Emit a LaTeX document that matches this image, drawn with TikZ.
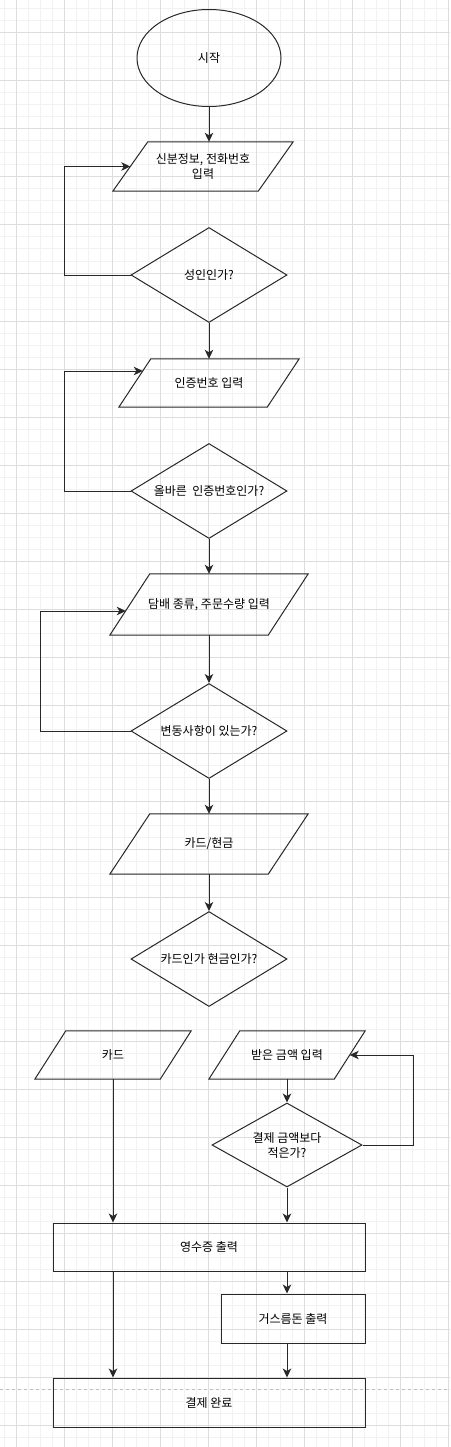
\documentclass[tikz,border=0pt]{standalone}
\usepackage{fontspec}
\setmainfont{Noto Sans CJK KR}
\usepackage{tikz}
\usetikzlibrary{arrows.meta, calc, shapes.geometric}
\definecolor{gridmajor}{RGB}{221,221,221}
\definecolor{gridminor}{RGB}{242,242,242}
\definecolor{breakgray}{RGB}{190,190,190}
\definecolor{strokegray}{RGB}{40,40,40}
\newcommand{\slantbox}[2]{%
  \draw[strokegray, line width=1pt] ($(#1.south west)+(-#2/2,0)$) -- ($(#1.north west)+(#2/2,0)$)
    -- ($(#1.north east)+(#2/2,0)$) -- ($(#1.south east)+(-#2/2,0)$) -- cycle;}

\begin{document}
\begin{tikzpicture}[x=1pt, y=-1pt, >={Stealth[length=9pt,width=8.5pt,inset=2.5pt]},
  every node/.style={font=\fontsize{12}{15}\selectfont, align=center, inner sep=0pt},
  terminal/.style={ellipse, draw=strokegray, line width=1pt, minimum width=144, minimum height=97},
  iobox/.style={rectangle, minimum height=48},
  decision/.style={diamond, draw=strokegray, line width=1pt, aspect=1.64, minimum width=156, minimum height=95},
  process/.style={rectangle, draw=strokegray, line width=1pt, minimum height=48},
  flow/.style={->, strokegray, line width=1pt}]

\useasboundingbox (0,0) rectangle (450,1447);
\fill[white] (0,0) rectangle (450,1447);
\foreach \gx in {4.5,16.5,...,450} \draw[gridminor, line width=1pt] (\gx,0) -- (\gx,1447);
\foreach \gy in {9,21,...,1447} \draw[gridminor, line width=1pt] (0,\gy) -- (450,\gy);
\foreach \gx in {16.5,64.5,...,450} \draw[gridmajor, line width=1pt] (\gx,0) -- (\gx,1447);
\foreach \gy in {33,81,...,1447} \draw[gridmajor, line width=1pt] (0,\gy) -- (450,\gy);
\draw[breakgray, line width=0.8pt, dash pattern=on 3pt off 3pt] (0,1389) -- (450,1389);

\node[terminal] (start) at (209,58) {시작};
\node[iobox, minimum width=145, minimum height=49] (idin) at (203,166.5) {신분정보, 전화번호\\입력};
\node[decision] (adult) at (209,275) {성인인가?};
\node[iobox, minimum width=148] (codein) at (209,383) {인증번호 입력};
\node[decision] (codeok) at (209,491) {올바른\ \ 인증번호인가?};
\node[iobox, minimum width=158, minimum height=61] (order) at (209,604.5) {담배 종류, 주문수량 입력};
\node[decision] (change) at (209,731) {변동사항이 있는가?};
\node[iobox, minimum width=158, minimum height=60] (paytype) at (209,844) {카드/현금};
\node[decision] (paycheck) at (209,959) {카드인가 현금인가?};
\node[iobox, minimum width=125] (card) at (113,1055) {카드};
\node[iobox, minimum width=125] (cashin) at (287,1055) {받은 금액 입력};
\node[decision, minimum width=150, minimum height=84, aspect=1.8] (short) at (287,1145) {결제 금액보다\\적은가?};
\node[process, minimum width=312] (receipt) at (209,1247) {영수증 출력};
\node[process, minimum width=144, minimum height=49] (giveback) at (293,1318.5) {거스름돈 출력};
\node[process, minimum width=312, minimum height=49] (done) at (209,1402.5) {결제 완료};

\slantbox{idin}{35}
\slantbox{codein}{32}
\slantbox{order}{40}
\slantbox{paytype}{40}
\slantbox{card}{31}
\slantbox{cashin}{31}

\draw[flow] (start.south) -- (start.south |- idin.north);
\draw[flow] (adult.west) -- ++(-66,0) |- (idin.west);
\draw[flow] (adult.south) -- (codein.north);
\draw[flow] (codeok.west) -- ++(-66,0) |- ([shift={(8,-12)}]codein.west);
\draw[flow] (codeok.south) -- (order.north);
\draw[flow] (order.south) -- (change.north);
\draw[flow] (change.west) -- ++(-90,0) |- ([shift={(-4,6.5)}]order.west);
\draw[flow] (change.south) -- (paytype.north);
\draw[flow] (paytype.south) -- (paycheck.north);
\draw[flow] (cashin.south) -- (short.north);
\draw[flow] (short.east) -- ++(51,0) |- (cashin.east);
\draw[flow] (card.south) -- (card.south |- receipt.north);
\draw[flow] (short.south) -- (short.south |- receipt.north);
\draw[flow] (short.south |- receipt.south) -- (short.south |- giveback.north);
\draw[flow] (card.south |- receipt.south) -- (card.south |- done.north);
\draw[flow] (short.south |- giveback.south) -- (short.south |- done.north);

\end{tikzpicture}
\end{document}
